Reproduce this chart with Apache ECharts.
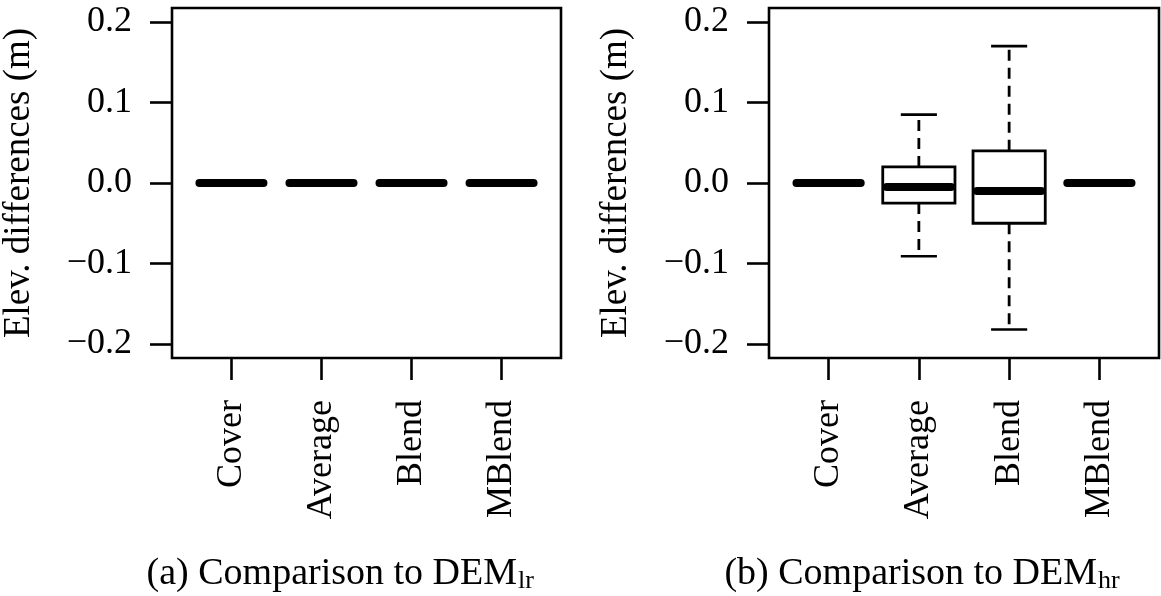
<!DOCTYPE html>
<html>
<head>
<meta charset="utf-8">
<script src="https://cdn.jsdelivr.net/npm/echarts@6/dist/echarts.min.js"></script>
<style>
  html, body { margin: 0; padding: 0; background: #fff; }
  #chart { width: 1161px; height: 596px; }
</style>
</head>
<body>
<div id="chart"></div>
<script>
// ---- data ----
const categories = ['Cover', 'Average', 'Blend', 'MBlend'];
// [lower whisker, Q1, median, Q3, upper whisker]
const statsLr = [
  [0, 0, 0, 0, 0],
  [0, 0, 0, 0, 0],
  [0, 0, 0, 0, 0],
  [0, 0, 0, 0, 0]
];
const statsHr = [
  [0, 0, 0, 0, 0],
  [-0.091, -0.025, -0.005, 0.02, 0.085],
  [-0.182, -0.05, -0.01, 0.04, 0.17],
  [0, 0, 0, 0, 0]
];
const yTicks = [-0.2, -0.1, 0.0, 0.1, 0.2];
const yAxisTitle = 'Elev. differences (m)';
const captionA = ['(a) Comparison to DEM', 'lr'];
const captionB = ['(b) Comparison to DEM', 'hr'];

// ---- chart ----
const FONT = "'Liberation Serif', 'DejaVu Serif', serif";
const chart = echarts.init(document.getElementById('chart'), null, { renderer: 'canvas' });

function toRows(stats) {
  return stats.map((s, i) => [i].concat(s));
}

function renderItem(params, api) {
  const xi = api.value(0);
  const mn = api.value(1), q1 = api.value(2), md = api.value(3), q3 = api.value(4), mx = api.value(5);
  const bw = api.size([1, 0])[0] * 0.8;
  const cx = api.coord([xi, md])[0];
  const Y = v => api.coord([xi, v])[1];
  const half = bw / 2;
  const lw = 2.7;
  const children = [];
  const black = '#000';
  const dashStyle = { stroke: black, lineWidth: 2.8, lineDash: [11, 7] };
  if (mx > q3) {
    children.push({ type: 'line', shape: { x1: cx, y1: Y(q3), x2: cx, y2: Y(mx) }, style: dashStyle });
    children.push({ type: 'line', shape: { x1: cx - half / 2, y1: Y(mx), x2: cx + half / 2, y2: Y(mx) },
      style: { stroke: black, lineWidth: lw } });
  }
  if (mn < q1) {
    children.push({ type: 'line', shape: { x1: cx, y1: Y(q1), x2: cx, y2: Y(mn) }, style: dashStyle });
    children.push({ type: 'line', shape: { x1: cx - half / 2, y1: Y(mn), x2: cx + half / 2, y2: Y(mn) },
      style: { stroke: black, lineWidth: lw } });
  }
  if (q3 > q1) {
    children.push({ type: 'rect', shape: { x: cx - half, y: Y(q3), width: bw, height: Y(q1) - Y(q3) },
      style: { fill: '#fff', stroke: black, lineWidth: 2.8 } });
  }
  const mw = 8;
  children.push({ type: 'line', shape: { x1: cx - half + mw / 2, y1: Y(md), x2: cx + half - mw / 2, y2: Y(md) },
    style: { stroke: black, lineWidth: mw, lineCap: 'round' } });
  return { type: 'group', children };
}

function xAxisCfg(gi) {
  return {
    type: 'value', gridIndex: gi, min: -0.66, max: 3.66,
    axisLine: { show: false, onZero: false },
    splitLine: { show: false },
    axisTick: { show: true, length: 22, customValues: [0, 1, 2, 3], lineStyle: { color: '#000', width: 2.6 } },
    axisLabel: {
      show: true, rotate: 90, margin: 42, customValues: [0, 1, 2, 3],
      formatter: v => categories[Math.round(v)] || '',
      color: '#000', fontFamily: FONT, fontSize: 36
    }
  };
}

function yAxisCfg(gi) {
  return {
    type: 'value', gridIndex: gi, min: -0.2174, max: 0.2174,
    name: yAxisTitle, nameLocation: 'middle', nameRotate: 90, nameGap: 134,
    nameTextStyle: { color: '#000', fontFamily: FONT, fontSize: 37 },
    axisLine: { show: false, onZero: false },
    splitLine: { show: false },
    axisTick: { show: true, length: 22, customValues: yTicks, lineStyle: { color: '#000', width: 2.6 } },
    axisLabel: {
      show: true, margin: 40, customValues: yTicks,
      formatter: v => (Math.abs(v) < 1e-9 ? '0.0' : (v < 0 ? '\u2212' + Math.abs(v).toFixed(1) : v.toFixed(1))),
      color: '#000', fontFamily: FONT, fontSize: 36
    }
  };
}

const gridBase = { show: true, borderColor: '#000', borderWidth: 2.6, backgroundColor: 'transparent', containLabel: false };

chart.setOption({
  backgroundColor: '#fff',
  animation: false,
  grid: [
    Object.assign({ left: 172, top: 8, width: 389, height: 350 }, gridBase),
    Object.assign({ left: 769, top: 8, width: 390, height: 350 }, gridBase)
  ],
  xAxis: [xAxisCfg(0), xAxisCfg(1)],
  yAxis: [yAxisCfg(0), yAxisCfg(1)],
  series: [
    { type: 'custom', xAxisIndex: 0, yAxisIndex: 0, renderItem, data: toRows(statsLr),
      encode: { x: 0, y: [1, 2, 3, 4, 5] }, silent: true },
    { type: 'custom', xAxisIndex: 1, yAxisIndex: 1, renderItem, data: toRows(statsHr),
      encode: { x: 0, y: [1, 2, 3, 4, 5] }, silent: true }
  ],
  graphic: [
    { type: 'text', x: 517, y: 574, style: { text: captionA[0], textAlign: 'right', textVerticalAlign: 'middle', fill: '#000', font: '38px ' + FONT } },
    { type: 'text', x: 518, y: 581, style: { text: captionA[1], textAlign: 'left', textVerticalAlign: 'middle', fill: '#000', font: '26px ' + FONT } },
    { type: 'text', x: 1097, y: 574, style: { text: captionB[0], textAlign: 'right', textVerticalAlign: 'middle', fill: '#000', font: '38px ' + FONT } },
    { type: 'text', x: 1098, y: 581, style: { text: captionB[1], textAlign: 'left', textVerticalAlign: 'middle', fill: '#000', font: '26px ' + FONT } }
  ]
});
</script>
</body>
</html>
